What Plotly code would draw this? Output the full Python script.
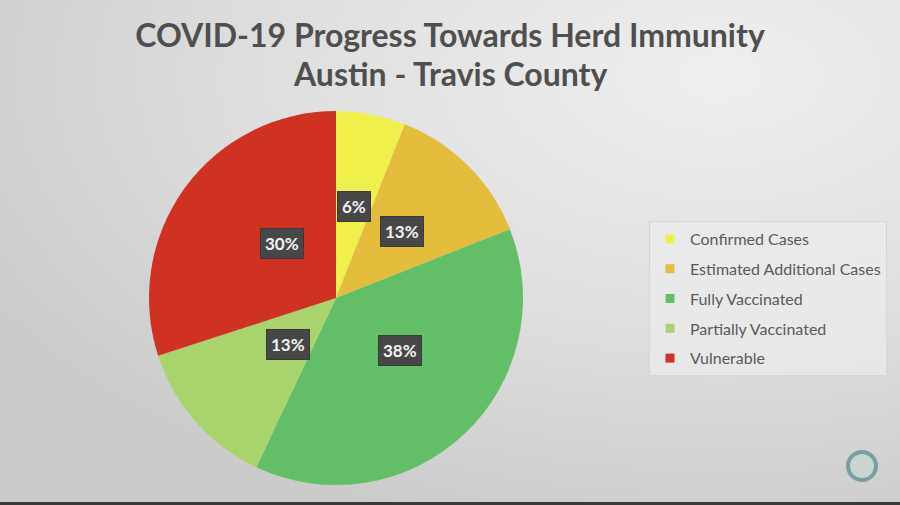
import base64
import numpy as np
import plotly.graph_objects as go

# ---- data ----
labels = ["Confirmed Cases", "Estimated Additional Cases", "Fully Vaccinated",
          "Partially Vaccinated", "Vulnerable"]
values = [6, 13, 38, 13, 30]
colors = ["#eff04c", "#e5bd3d", "#62bf68", "#a9d36c", "#cf3222"]
title_line1 = "COVID-19 Progress Towards Herd Immunity"
title_line2 = "Austin - Travis County"

W, H = 900, 505
CX, CY, R = 336, 298, 187  # pie centre / radius in pixels

fig = go.Figure()

# background gradient
svg = f'''<svg xmlns="http://www.w3.org/2000/svg" width="{W}" height="{H}" viewBox="0 0 {W} {H}" preserveAspectRatio="none">
<defs><radialGradient id="g" cx="0.8" cy="0.15" r="0.95">
<stop offset="0" stop-color="#efefef"/><stop offset="0.55" stop-color="#dedede"/>
<stop offset="1" stop-color="#cacaca"/></radialGradient></defs>
<rect width="{W}" height="{H}" fill="url(#g)"/></svg>'''
uri = "data:image/svg+xml;base64," + base64.b64encode(svg.encode()).decode()

fig.add_trace(go.Pie(
    labels=labels, values=values, sort=False, direction="clockwise", rotation=0,
    marker=dict(colors=colors, line=dict(width=0)),
    textinfo="none", showlegend=False,
    domain=dict(x=[(CX - R) / W, (CX + R) / W],
                y=[(H - CY - R) / H, (H - CY + R) / H]),
))

# legend entries (one group each so spacing can be set)
for lab, col in zip(labels, colors):
    fig.add_trace(go.Scatter(
        x=[None], y=[None], mode="markers", name=lab, legendgroup=lab,
        marker=dict(symbol="square", size=9, color=col),
    ))

# percentage label boxes
vals = np.array(values, dtype=float)
mid = (np.cumsum(vals) - vals / 2) / vals.sum() * 2 * np.pi
annotations = []
for v, th in zip(values, mid):
    px = CX + 0.5 * R * np.sin(th)
    py = CY - 0.5 * R * np.cos(th)
    annotations.append(dict(
        x=px / W, y=(H - py) / H, xref="paper", yref="paper",
        text=f"<b>{v}%</b>", showarrow=False,
        font=dict(family="Lato", size=17, color="#f2f2f2"),
        bgcolor="#474747", bordercolor="#3a3a3a", borderwidth=1, borderpad=4))

annotations.append(dict(
    x=0.5, y=1 - 73 / H, xref="paper", yref="paper", xanchor="center", yanchor="middle",
    text=title_line2, showarrow=False,
    font=dict(family="Lato", size=32, color="#4f4f4f", weight=700)))

shapes = [
    dict(type="rect", xref="paper", yref="paper", x0=0, x1=1, y0=0, y1=3 / H,
         fillcolor="#3a3a3a", line=dict(width=0)),
    dict(type="circle", xref="paper", yref="paper",
         x0=848 / W, x1=876 / W, y0=(H - 480) / H, y1=(H - 452) / H,
         fillcolor="#c9d6d0", line=dict(color="#7b9ea2", width=4)),
]

fig.update_layout(
    width=W, height=H, margin=dict(l=0, r=0, t=0, b=0),
    paper_bgcolor="#dddddd", plot_bgcolor="rgba(0,0,0,0)",
    images=[dict(source=uri, xref="paper", yref="paper", x=0, y=1, sizex=1, sizey=1,
                 sizing="stretch", xanchor="left", yanchor="top", layer="below")],
    title=dict(text=title_line1, x=0.5, xanchor="center",
               y=1 - 36 / H, yanchor="middle", yref="container",
               font=dict(family="Lato", size=32, color="#4f4f4f", weight=700)),
    xaxis=dict(visible=False), yaxis=dict(visible=False),
    legend=dict(x=649 / W, y=(H - 221) / H, xanchor="left", yanchor="top",
                bgcolor="rgba(236,236,236,0.7)", bordercolor="#d6d6d6", borderwidth=1,
                font=dict(family="Lato", size=16, color="#5a5a5a"),
                itemwidth=30, tracegroupgap=6, traceorder="grouped"),
    annotations=annotations, shapes=shapes,
)

fig.write_html("out.html", config={"displayModeBar": False},
               post_script="document.body.style.margin='0';document.body.style.overflow='hidden';")
